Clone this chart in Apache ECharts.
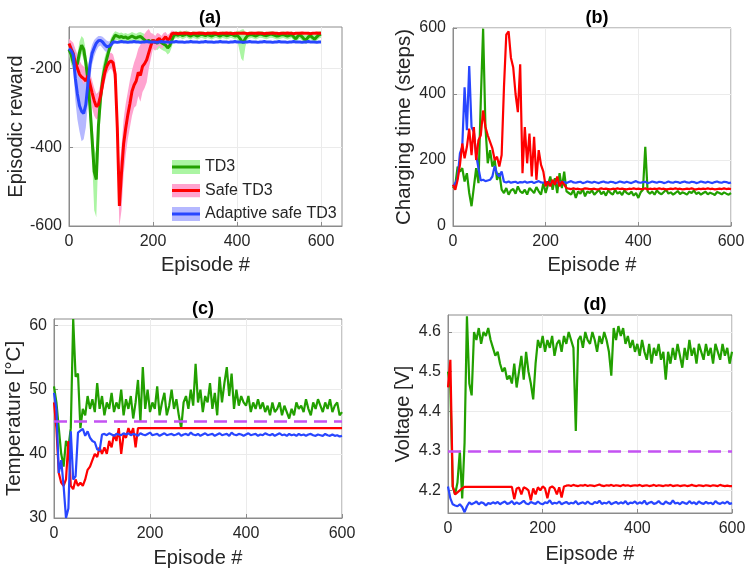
<!DOCTYPE html>
<html><head><meta charset="utf-8">
<script src="https://cdn.jsdelivr.net/npm/echarts@6/dist/echarts.min.js"></script>
<style>html,body{margin:0;padding:0;background:#fff}#c{width:747px;height:573px}</style>
</head><body><div id="c"></div>
<script>
// ---------- data ----------
const EP = [0,5,10,15,20,25,30,35,40,45,50,55,60,65,70,75,80,85,90,95,100,105,110,115,120,125,130,135,140,145,
150,155,160,165,170,175,180,185,190,195,200,205,210,215,220,225,230,235,240,245,250,255,260,265,270,275,280,285,290,295,
300,305,310,315,320,325,330,335,340,345,350,355,360,365,370,375,380,385,390,395,400,405,410,415,420,425,430,435,440,445,
450,455,460,465,470,475,480,485,490,495,500,505,510,515,520,525,530,535,540,545,550,555,560,565,570,575,580,585,590,595,600];

const SERIES_NAMES = ['TD3', 'Safe TD3', 'Adaptive safe TD3'];

// (a) episodic reward (smoothed lines + min/max bands)
const A_TD3 = [
-152,-165,-185,-196,-188,-160,-141,-152,-185,-230,
-297,-380,-462,-482,-347,-275,-229,-200,-175,-155,
-138,-125,-116,-118,-121,-119,-122,-120,-124,-121,
-118,-121,-123,-120,-119,-123,-128,-132,-129,-134,
-128,-133,-136,-130,-135,-138,-141,-148,-142,-128,
-116,-114,-116,-113,-117,-115,-112,-116,-118,-114,
-115,-118,-116,-113,-115,-117,-114,-116,-118,-115,
-113,-116,-118,-114,-115,-117,-116,-113,-115,-118,
-116,-121,-129,-135,-124,-117,-115,-114,-116,-118,
-115,-113,-114,-116,-117,-115,-113,-114,-116,-118,
-117,-115,-114,-116,-118,-116,-114,-120,-125,-118,
-115,-120,-126,-127,-120,-117,-122,-126,-120,-115,
-113];
const A_TD3_UP = [
-140,-140,-160,-172,-165,-132,-118,-125,-155,-195,
-255,-330,-400,-420,-300,-235,-195,-172,-152,-136,
-122,-112,-106,-108,-110,-109,-112,-110,-113,-111,
-108,-110,-112,-109,-108,-110,-113,-116,-112,-118,
-114,-118,-120,-114,-118,-122,-124,-128,-126,-114,
-108,-106,-107,-104,-108,-106,-104,-107,-109,-106,
-107,-110,-108,-105,-107,-109,-106,-108,-110,-107,
-105,-108,-110,-106,-107,-109,-108,-105,-107,-110,
-104,-105,-102,-100,-108,-108,-107,-106,-108,-110,
-107,-105,-106,-108,-109,-107,-105,-106,-108,-110,
-109,-107,-106,-108,-110,-108,-106,-110,-114,-109,
-107,-110,-115,-116,-110,-108,-112,-115,-110,-106,
-105];
const A_TD3_LO = [
-165,-190,-205,-218,-212,-188,-162,-178,-215,-268,
-340,-430,-560,-578,-420,-320,-262,-228,-198,-172,
-152,-138,-128,-128,-132,-130,-133,-131,-135,-132,
-130,-133,-135,-132,-131,-136,-142,-148,-145,-150,
-145,-150,-154,-148,-152,-155,-158,-165,-160,-145,
-126,-123,-125,-122,-126,-124,-121,-125,-127,-123,
-124,-127,-125,-122,-124,-126,-123,-125,-127,-124,
-122,-125,-127,-123,-124,-126,-125,-122,-124,-127,
-126,-150,-175,-182,-145,-127,-124,-123,-125,-127,
-124,-122,-123,-125,-126,-124,-122,-123,-125,-127,
-126,-124,-123,-125,-127,-125,-123,-130,-136,-128,
-124,-130,-136,-138,-130,-126,-132,-137,-130,-124,
-122];
const A_SAFE = [
-137,-150,-162,-185,-200,-215,-222,-226,-232,-218,
-240,-262,-282,-297,-292,-270,-240,-212,-195,-185,
-181,-186,-215,-350,-549,-465,-392,-352,-318,-290,
-258,-242,-232,-210,-218,-195,-188,-178,-160,-142,
-128,-135,-128,-124,-132,-126,-120,-128,-124,-112,
-111,-111,-112,-111,-111,-110,-111,-111,-112,-111,
-111,-111,-110,-111,-111,-112,-111,-111,-111,-110,
-111,-112,-111,-111,-111,-110,-111,-111,-112,-111,
-111,-111,-111,-110,-111,-112,-111,-111,-111,-111,
-110,-111,-111,-112,-111,-111,-111,-110,-111,-111,
-112,-111,-111,-111,-110,-111,-111,-112,-111,-111,
-111,-110,-111,-111,-111,-112,-111,-111,-110,-111,
-111];
const A_SAFE_UP = [
-125,-130,-135,-150,-165,-180,-190,-195,-200,-195,
-210,-230,-250,-265,-260,-240,-215,-190,-175,-165,
-160,-165,-185,-290,-450,-400,-330,-290,-260,-230,
-205,-185,-170,-150,-140,-125,-112,-105,-100,-110,
-112,-118,-110,-112,-118,-110,-108,-115,-110,-104,
-106];
const A_SAFE_LO = [
-150,-175,-200,-225,-245,-255,-260,-262,-265,-250,
-272,-300,-320,-330,-325,-300,-265,-235,-215,-205,
-200,-210,-250,-420,-600,-560,-470,-420,-380,-350,
-320,-300,-295,-270,-285,-260,-250,-235,-200,-175,
-150,-155,-148,-142,-150,-145,-135,-145,-140,-120,
-116];
const A_ADAPT = [
-150,-155,-165,-225,-265,-295,-309,-314,-292,-240,
-190,-162,-148,-136,-130,-129,-133,-140,-145,-144,
-140,-133,-133,-134,-133,-132,-133,-133,-134,-133,
-133,-132,-133,-133,-134,-133,-133,-132,-133,-133,
-133,-133,-134,-133,-132,-133,-133,-133,-134,-133,
-133,-132,-133,-133,-133,-134,-133,-133,-132,-133,
-133,-133,-134,-133,-133,-132,-133,-133,-133,-134,
-133,-133,-132,-133,-133,-133,-134,-133,-133,-132,
-133,-133,-133,-134,-133,-133,-132,-133,-133,-133,
-134,-133,-133,-132,-133,-133,-133,-134,-133,-133,
-132,-133,-133,-133,-134,-133,-133,-132,-133,-133,
-133,-134,-133,-133,-132,-133,-133,-133,-134,-133,
-133];
const A_ADAPT_UP = [
-135,-140,-145,-160,-190,-215,-230,-240,-230,-200,
-160,-140,-128,-122,-118,-118,-120,-125,-130,-132,
-130,-128,-130];
const A_ADAPT_LO = [
-165,-170,-190,-280,-330,-360,-385,-380,-350,-290,
-230,-190,-170,-155,-145,-142,-148,-155,-160,-158,
-152,-140,-136];

// (b) charging time (steps)
const B_TD3 = [
115,125,180,165,175,135,160,100,60,118,
175,130,380,598,300,190,230,180,200,140,
160,110,100,115,95,108,112,98,120,105,
100,110,95,115,108,100,118,105,95,130,
100,125,150,110,145,100,160,115,165,105,
100,95,110,85,105,98,112,90,105,100,
108,95,102,110,96,104,92,108,100,95,
110,98,103,94,108,100,96,104,92,100,
85,102,110,240,105,98,104,95,108,100,
96,103,110,98,102,95,100,106,97,102,
99,95,104,100,108,97,102,95,100,104,
96,101,98,94,103,100,96,102,98,95,
100];
const B_SAFE = [
125,110,140,185,250,205,240,295,215,300,
200,260,275,350,300,275,255,235,200,210,
180,215,420,580,590,510,480,400,345,490,
160,300,190,280,150,270,140,230,185,165,
120,135,120,140,125,150,120,135,125,115,
113,112,114,112,113,111,112,114,113,112,
112,113,111,112,114,112,113,112,111,113,
112,114,112,113,112,111,113,112,114,112,
113,112,112,114,111,113,112,113,112,114,
112,113,111,112,113,112,114,112,113,111,
112,113,112,114,112,111,113,112,113,112,
114,112,113,111,112,113,112,114,112,113,
112];
const B_ADAPT = [
120,130,145,220,240,420,290,485,300,285,
215,175,138,140,136,138,140,150,182,158,
150,165,134,132,135,131,133,134,130,133,
132,135,131,133,134,130,133,136,132,131,
134,132,130,133,135,131,132,134,133,130,
133,136,132,131,133,134,130,132,135,133,
131,134,132,130,133,135,132,131,134,133,
130,132,135,133,131,134,132,130,133,136,
132,131,133,134,130,132,135,133,131,134,
133,130,132,135,132,131,134,133,130,133,
135,132,131,134,133,130,132,135,133,131,
134,132,130,133,135,132,131,134,133,130,
132];

// (c) temperature
const C_TD3 = [
50.5,48,44,40,38,42,41,44,61,52,
52.5,44,47,46,49,47,48.5,46.5,51,47,
49,46,48,47,49.5,46.5,48,47,50,46,
48.5,47,49,45.5,48,51.5,45,53.5,47,50,
46.5,48,47,50.5,46,48,49.5,46,47.5,50,
47,48.5,46,44,48,49,47,50,47.5,54,
48,50,46.5,49,48,51,47,49.5,46,52,
48,51,53.5,49,52.5,47,50,47.5,49,48,
47.5,49,46.5,48,47,48.5,47,48,46.5,47.5,
46,48,46.5,47,48,46,47.5,46.5,45.5,47,
46,48,47,47.5,46.5,48.5,47,46,48,47,
48.5,47.5,46.5,48,47,48.5,46.5,47.5,48,46,
46.5];
const C_SAFE = [
48,44,37,35.5,35,36,42,35,34.5,36,
35,35.5,35,36,37.5,38,39,40,39.5,41,
40,41,40,42,41,43,42,44,40,43,
42.5,44,43,44,41,44,44,44,44,44,
44,44,44,44,44,44,44,44,44,44,
44,44,44,44,44,44,44,44,44,44,
44,44,44,44,44,44,44,44,44,44,
44,44,44,44,44,44,44,44,44,44,
44,44,44,44,44,44,44,44,44,44,
44,44,44,44,44,44,44,44,44,44,
44,44,44,44,44,44,44,44,44,44,
44,44,44,44,44,44,44,44,44,44,
44];
const C_ADAPT = [
49.5,47,37,39,35,30,31.5,43.5,36,36.5,
43.3,43.6,43.9,42.8,43.5,42.5,42,41.8,40.7,40.5,
43,43.1,42.9,43.2,43,42.8,43.1,43,42.9,43.2,
43,43.2,42.9,43.1,43,42.8,43.2,43,42.9,43.1,
43.3,42.9,43,43.1,42.8,43,43.2,42.9,43,43.1,
42.9,43,43.2,42.8,43,43.1,42.9,43.3,43,42.9,
43.1,42.8,43,43.2,42.9,43,43.1,42.8,43,43.2,
42.9,43,43.1,42.8,43.3,43,42.9,43.1,43,42.8,
43,43.2,42.9,43,43.1,42.8,43,42.9,43.2,43,
42.9,43.1,42.8,43,43.2,42.9,43,42.8,43.1,42.9,
43,42.8,43.1,42.9,43,42.8,43,43.1,42.9,42.8,
43,42.9,42.8,43.1,42.9,42.8,43,42.8,42.9,42.7,
42.8];
const C_LIMIT = 45;

// (d) voltage
const D_TD3 = [
4.50,4.46,4.21,4.19,4.22,4.30,4.18,4.32,4.64,4.47,
4.44,4.60,4.58,4.61,4.57,4.60,4.59,4.61,4.58,4.56,
4.54,4.55,4.52,4.50,4.51,4.48,4.49,4.47,4.52,4.46,
4.50,4.54,4.48,4.55,4.50,4.47,4.43,4.52,4.58,4.56,
4.59,4.55,4.58,4.56,4.59,4.54,4.57,4.58,4.55,4.59,
4.57,4.60,4.58,4.56,4.35,4.58,4.59,4.56,4.60,4.58,
4.57,4.60,4.58,4.55,4.59,4.57,4.60,4.58,4.55,4.49,
4.61,4.58,4.615,4.59,4.61,4.57,4.59,4.56,4.58,4.55,
4.57,4.54,4.58,4.55,4.53,4.57,4.52,4.56,4.54,4.57,
4.53,4.55,4.48,4.55,4.52,4.56,4.53,4.57,4.54,4.51,
4.56,4.53,4.58,4.54,4.56,4.52,4.57,4.55,4.53,4.57,
4.54,4.56,4.52,4.57,4.55,4.53,4.57,4.54,4.56,4.52,
4.55];
const D_SAFE = [
4.46,4.53,4.21,4.19,4.195,4.20,4.205,4.209,4.209,4.209,
4.209,4.209,4.209,4.209,4.209,4.209,4.209,4.209,4.209,4.209,
4.209,4.209,4.209,4.209,4.209,4.209,4.209,4.209,4.178,4.205,
4.207,4.19,4.208,4.205,4.20,4.175,4.205,4.19,4.208,4.20,
4.21,4.205,4.18,4.207,4.21,4.205,4.19,4.208,4.182,4.21,
4.212,4.213,4.211,4.214,4.212,4.211,4.213,4.212,4.214,4.211,
4.213,4.212,4.211,4.213,4.215,4.212,4.211,4.213,4.212,4.214,
4.211,4.213,4.212,4.211,4.214,4.212,4.213,4.211,4.212,4.213,
4.212,4.214,4.211,4.212,4.213,4.211,4.212,4.214,4.211,4.213,
4.212,4.211,4.213,4.212,4.214,4.211,4.212,4.213,4.211,4.212,
4.213,4.211,4.212,4.214,4.212,4.211,4.213,4.212,4.211,4.213,
4.212,4.211,4.213,4.212,4.211,4.214,4.212,4.211,4.212,4.211,
4.211];
const D_ADAPT = [
4.21,4.18,4.165,4.162,4.16,4.165,4.158,4.145,4.16,4.17,
4.165,4.168,4.172,4.165,4.17,4.168,4.162,4.168,4.166,4.17,
4.167,4.171,4.165,4.169,4.172,4.166,4.168,4.173,4.165,4.17,
4.166,4.169,4.174,4.167,4.165,4.171,4.168,4.166,4.172,4.167,
4.165,4.17,4.168,4.175,4.166,4.169,4.167,4.172,4.165,4.168,
4.171,4.166,4.169,4.167,4.173,4.165,4.168,4.17,4.166,4.172,
4.167,4.165,4.171,4.168,4.174,4.166,4.169,4.167,4.172,4.165,
4.168,4.171,4.166,4.17,4.167,4.173,4.165,4.169,4.168,4.172,
4.166,4.17,4.167,4.174,4.165,4.169,4.171,4.166,4.168,4.173,
4.167,4.165,4.172,4.168,4.166,4.175,4.167,4.169,4.165,4.171,
4.168,4.166,4.173,4.167,4.17,4.165,4.172,4.168,4.166,4.171,
4.167,4.169,4.165,4.173,4.168,4.166,4.17,4.167,4.172,4.166,
4.168];
const D_LIMIT = 4.3;

const X_TICKS_A = [0,200,400,600];
const Y_TICKS_A = [-600,-400,-200];
const X_TICKS = [0,200,400,600];
const Y_TICKS_B = [0,200,400,600];
const Y_TICKS_C = [30,40,50,60];
const Y_TICKS_D = [4.2,4.3,4.4,4.5,4.6];

// ---------- style ----------
const FONT = "'Liberation Sans', Arial, Helvetica, sans-serif";
const TXT = '#262626';
const AXC = '#8c8c8c';
const GRIDC = '#ebebeb';
const GREEN = '#22a000', RED = '#ff0000', BLUE = '#2846ff', PURPLE = '#c452f2';
const L_GREEN = '#abf5a3', L_PINK = '#ffa3cf', L_BLUE = '#b5b8ff';

const xy = ys => ys.map((v, i) => [EP[i], v]);

function xAx(gi, max, ticks, name, nameGap) {
  return {
    type: 'value', gridIndex: gi, min: 0, max: max,
    name: name, nameLocation: 'middle', nameGap: nameGap,
    nameTextStyle: { fontSize: 20, color: TXT, fontFamily: FONT },
    axisLine: { show: true, onZero: false, lineStyle: { color: AXC } },
    axisTick: { show: true, inside: true, length: 4, customValues: ticks, lineStyle: { color: AXC } },
    axisLabel: { customValues: ticks, fontSize: 16, color: TXT, margin: 8, fontFamily: FONT },
    splitLine: { show: true, lineStyle: { color: GRIDC } }
  };
}
function yAx(gi, min, max, ticks, name, nameGap, nameSize, fmt) {
  return {
    type: 'value', gridIndex: gi, min: min, max: max,
    name: name, nameLocation: 'middle', nameGap: nameGap,
    nameTextStyle: { fontSize: nameSize, color: TXT, fontFamily: FONT },
    axisLine: { show: true, onZero: false, lineStyle: { color: AXC } },
    axisTick: { show: true, inside: true, length: 4, customValues: ticks, lineStyle: { color: AXC } },
    axisLabel: { customValues: ticks, fontSize: 16, color: TXT, margin: 7, fontFamily: FONT, formatter: fmt },
    splitLine: { show: true, lineStyle: { color: GRIDC } }
  };
}
function line(name, gi, data, color, width, z) {
  return { type: 'line', name: name, xAxisIndex: gi, yAxisIndex: gi, data: data,
    symbol: 'none', showSymbol: false, lineStyle: { color: color, width: width },
    itemStyle: { color: color }, z: z || 3, silent: true };
}
// min/max envelope drawn as one polygon through the axis scales
function band(name, lo, up, color) {
  return {
    type: 'custom', name: name, coordinateSystem: 'cartesian2d', xAxisIndex: 0, yAxisIndex: 0,
    clip: true, silent: true, z: 1,
    itemStyle: { color: color },
    encode: { x: 0, y: [1, 2] },
    data: lo.map((v, i) => [EP[i], v, up[i]]),
    renderItem: function (params, api) {
      if (params.dataIndexInside !== 0) return null;
      const n = params.dataInsideLength;
      const top = [], bot = [];
      for (let i = 0; i < n; i++) {
        const x = api.value(0, i);
        bot.push(api.coord([x, api.value(1, i)]));
        top.push(api.coord([x, api.value(2, i)]));
      }
      return { type: 'polygon', shape: { points: top.concat(bot.reverse()) },
        style: { fill: color, stroke: null } };
    }
  };
}
function limit(gi, val) {
  return { type: 'line', xAxisIndex: gi, yAxisIndex: gi, data: [], silent: true,
    markLine: { silent: true, symbol: 'none', label: { show: false },
      lineStyle: { color: PURPLE, width: 2.5, type: [13, 7] },
      data: [{ yAxis: val }] } };
}
const icon = (b, l) => 'image://data:image/svg+xml;charset=utf-8,' + encodeURIComponent(
  '<svg xmlns="http://www.w3.org/2000/svg" width="28" height="14"><rect width="28" height="14" fill="' + b +
  '"/><rect y="5.5" width="28" height="3" fill="' + l + '"/></svg>');

const titleStyle = { fontSize: 18, fontWeight: 'bold', color: '#000', fontFamily: FONT };

const option = {
  animation: false,
  backgroundColor: '#fff',
  title: [
    { text: '(a)', left: 205, top: 4, textAlign: 'center', textStyle: titleStyle },
    { text: '(b)', left: 592, top: 4, textAlign: 'center', textStyle: titleStyle },
    { text: '(c)', left: 198, top: 295, textAlign: 'center', textStyle: titleStyle },
    { text: '(d)', left: 590, top: 291, textAlign: 'center', textStyle: titleStyle }
  ],
  grid: [
    { left: 69, top: 27, width: 273, height: 199, show: true, borderColor: AXC, borderWidth: 1, outerBoundsMode: 'none' },
    { left: 453, top: 28, width: 278, height: 198, show: true, borderColor: AXC, borderWidth: 1, outerBoundsMode: 'none' },
    { left: 54, top: 319, width: 288, height: 199, show: true, borderColor: AXC, borderWidth: 1, outerBoundsMode: 'none' },
    { left: 448, top: 315, width: 284, height: 198, show: true, borderColor: AXC, borderWidth: 1, outerBoundsMode: 'none' }
  ],
  xAxis: [
    xAx(0, 650, X_TICKS_A, 'Episode #', 29),
    xAx(1, 600, X_TICKS, 'Episode #', 29),
    xAx(2, 600, X_TICKS, 'Episode #', 30),
    xAx(3, 600, X_TICKS, 'Eipsode #', 31)
  ],
  yAxis: [
    yAx(0, -600, -95, Y_TICKS_A, 'Episodic reward', 43, 20),
    yAx(1, 0, 600, Y_TICKS_B, 'Charging time (steps)', 38, 20.5),
    yAx(2, 30, 61, Y_TICKS_C, 'Temperature [°C]', 28, 20.5),
    yAx(3, 4.143, 4.643, Y_TICKS_D, 'Voltage [V]', 35, 20, v => v.toFixed(1))
  ],
  legend: {
    show: true, orient: 'vertical', left: 167, top: 154, itemWidth: 28, itemHeight: 14, itemGap: 7.5,
    selectedMode: false,
    textStyle: { fontSize: 16, color: TXT, fontFamily: FONT },
    data: [
      { name: SERIES_NAMES[0], icon: icon(L_GREEN, GREEN) },
      { name: SERIES_NAMES[1], icon: icon(L_PINK, RED) },
      { name: SERIES_NAMES[2], icon: icon(L_BLUE, BLUE) }
    ]
  },
  series: [
    band(SERIES_NAMES[0], A_TD3_LO, A_TD3_UP, L_GREEN),
    band(SERIES_NAMES[1], A_SAFE_LO, A_SAFE_UP, L_PINK),
    band(SERIES_NAMES[2], A_ADAPT_LO, A_ADAPT_UP, L_BLUE),

    line('TD3 line', 0, xy(A_TD3), GREEN, 3),
    line('Safe TD3 line', 0, xy(A_SAFE), RED, 3),
    line('Adaptive line', 0, xy(A_ADAPT), BLUE, 3),

    line('b1', 1, xy(B_TD3), GREEN, 2.2),
    line('b3', 1, xy(B_ADAPT), BLUE, 2.2),
    line('b2', 1, xy(B_SAFE), RED, 2.2),

    line('c1', 2, xy(C_TD3), GREEN, 2.2),
    line('c2', 2, xy(C_SAFE), RED, 2.2),
    line('c3', 2, xy(C_ADAPT), BLUE, 2.2),
    limit(2, C_LIMIT),

    line('d1', 3, xy(D_TD3), GREEN, 2.2),
    line('d2', 3, xy(D_SAFE), RED, 2.2),
    line('d3', 3, xy(D_ADAPT), BLUE, 2.2),
    limit(3, D_LIMIT)
  ]
};

const chart = echarts.init(document.getElementById('c'), null, { renderer: 'canvas' });
chart.setOption(option);
</script>
</body></html>
